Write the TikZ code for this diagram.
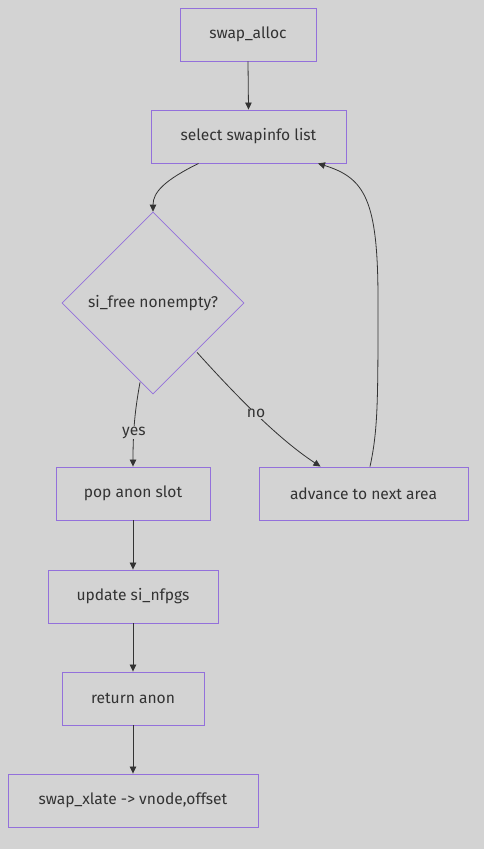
\documentclass[tikz,border=0pt]{standalone}
\usepackage{fontspec}
\setmainfont{Fira Sans}
\usetikzlibrary{shapes.geometric,arrows.meta}
\definecolor{bg}{HTML}{D3D3D3}
\definecolor{bord}{HTML}{9370DB}
\definecolor{ink}{HTML}{333333}
\begin{document}
\begin{tikzpicture}[x=1pt,y=-1pt,
  box/.style={draw=bord,line width=0.9pt,fill=bg,text=ink,inner sep=0pt,font=\fontsize{15.6}{18}\selectfont},
  dia/.style={draw=bord,line width=0.7pt,fill=bg,text=ink,diamond,aspect=1,inner sep=0pt,minimum width=182pt,minimum height=182pt,font=\fontsize{15.6}{18}\selectfont},
  edge/.style={draw=ink,line width=0.8pt,-{Triangle[length=7pt,width=6.5pt]}},
  lab/.style={fill=bg,text=ink,inner sep=1pt,font=\fontsize{15.6}{18}\selectfont}]
\useasboundingbox (0,0) rectangle (484,849);
\fill[bg] (0,0) rectangle (484,849);
\node[box,minimum width=136pt,minimum height=53pt] (a) at (248,34.5) {swap\_alloc};
\node[box,minimum width=195pt,minimum height=53pt] (s) at (248.5,136.5) {select swapinfo list};
\node[dia] (d) at (153,303) {si\_free nonempty?};
\node[box,minimum width=154pt,minimum height=53pt] (p) at (133,493.5) {pop anon slot};
\node[box,minimum width=209pt,minimum height=53pt] (n) at (363.5,493.5) {advance to next area};
\node[box,minimum width=170pt,minimum height=53pt] (u) at (133,596.5) {update si\_nfpgs};
\node[box,minimum width=142pt,minimum height=53pt] (r) at (133,698.5) {return anon};
\node[box,minimum width=250pt,minimum height=53pt] (x) at (133,800.5) {swap\_xlate -> vnode,offset};
\draw[edge] (a.south) -- (s.north);
\draw[edge] ([xshift=-50pt]s.south) .. controls (165,180) and (153,192) .. (d.north);
\draw[edge] ([xshift=-13pt,yshift=12pt]d.south) .. controls (136,405) and (133,425) .. (p.north) node[lab,pos=0.68] {yes};
\draw[edge] ([xshift=44pt,yshift=42pt]d.south) .. controls (240,400) and (280,440) .. ([xshift=-43pt]n.north) node[lab,pos=0.47] {no};
\draw[edge] ([xshift=6.5pt]n.north) .. controls (378,430) and (378,400) .. (378,300) .. controls (378,200) and (365,178) .. ([xshift=69.5pt]s.south);
\draw[edge] (p.south) -- (u.north);
\draw[edge] (u.south) -- (r.north);
\draw[edge] (r.south) -- (x.north);
\end{tikzpicture}
\end{document}
